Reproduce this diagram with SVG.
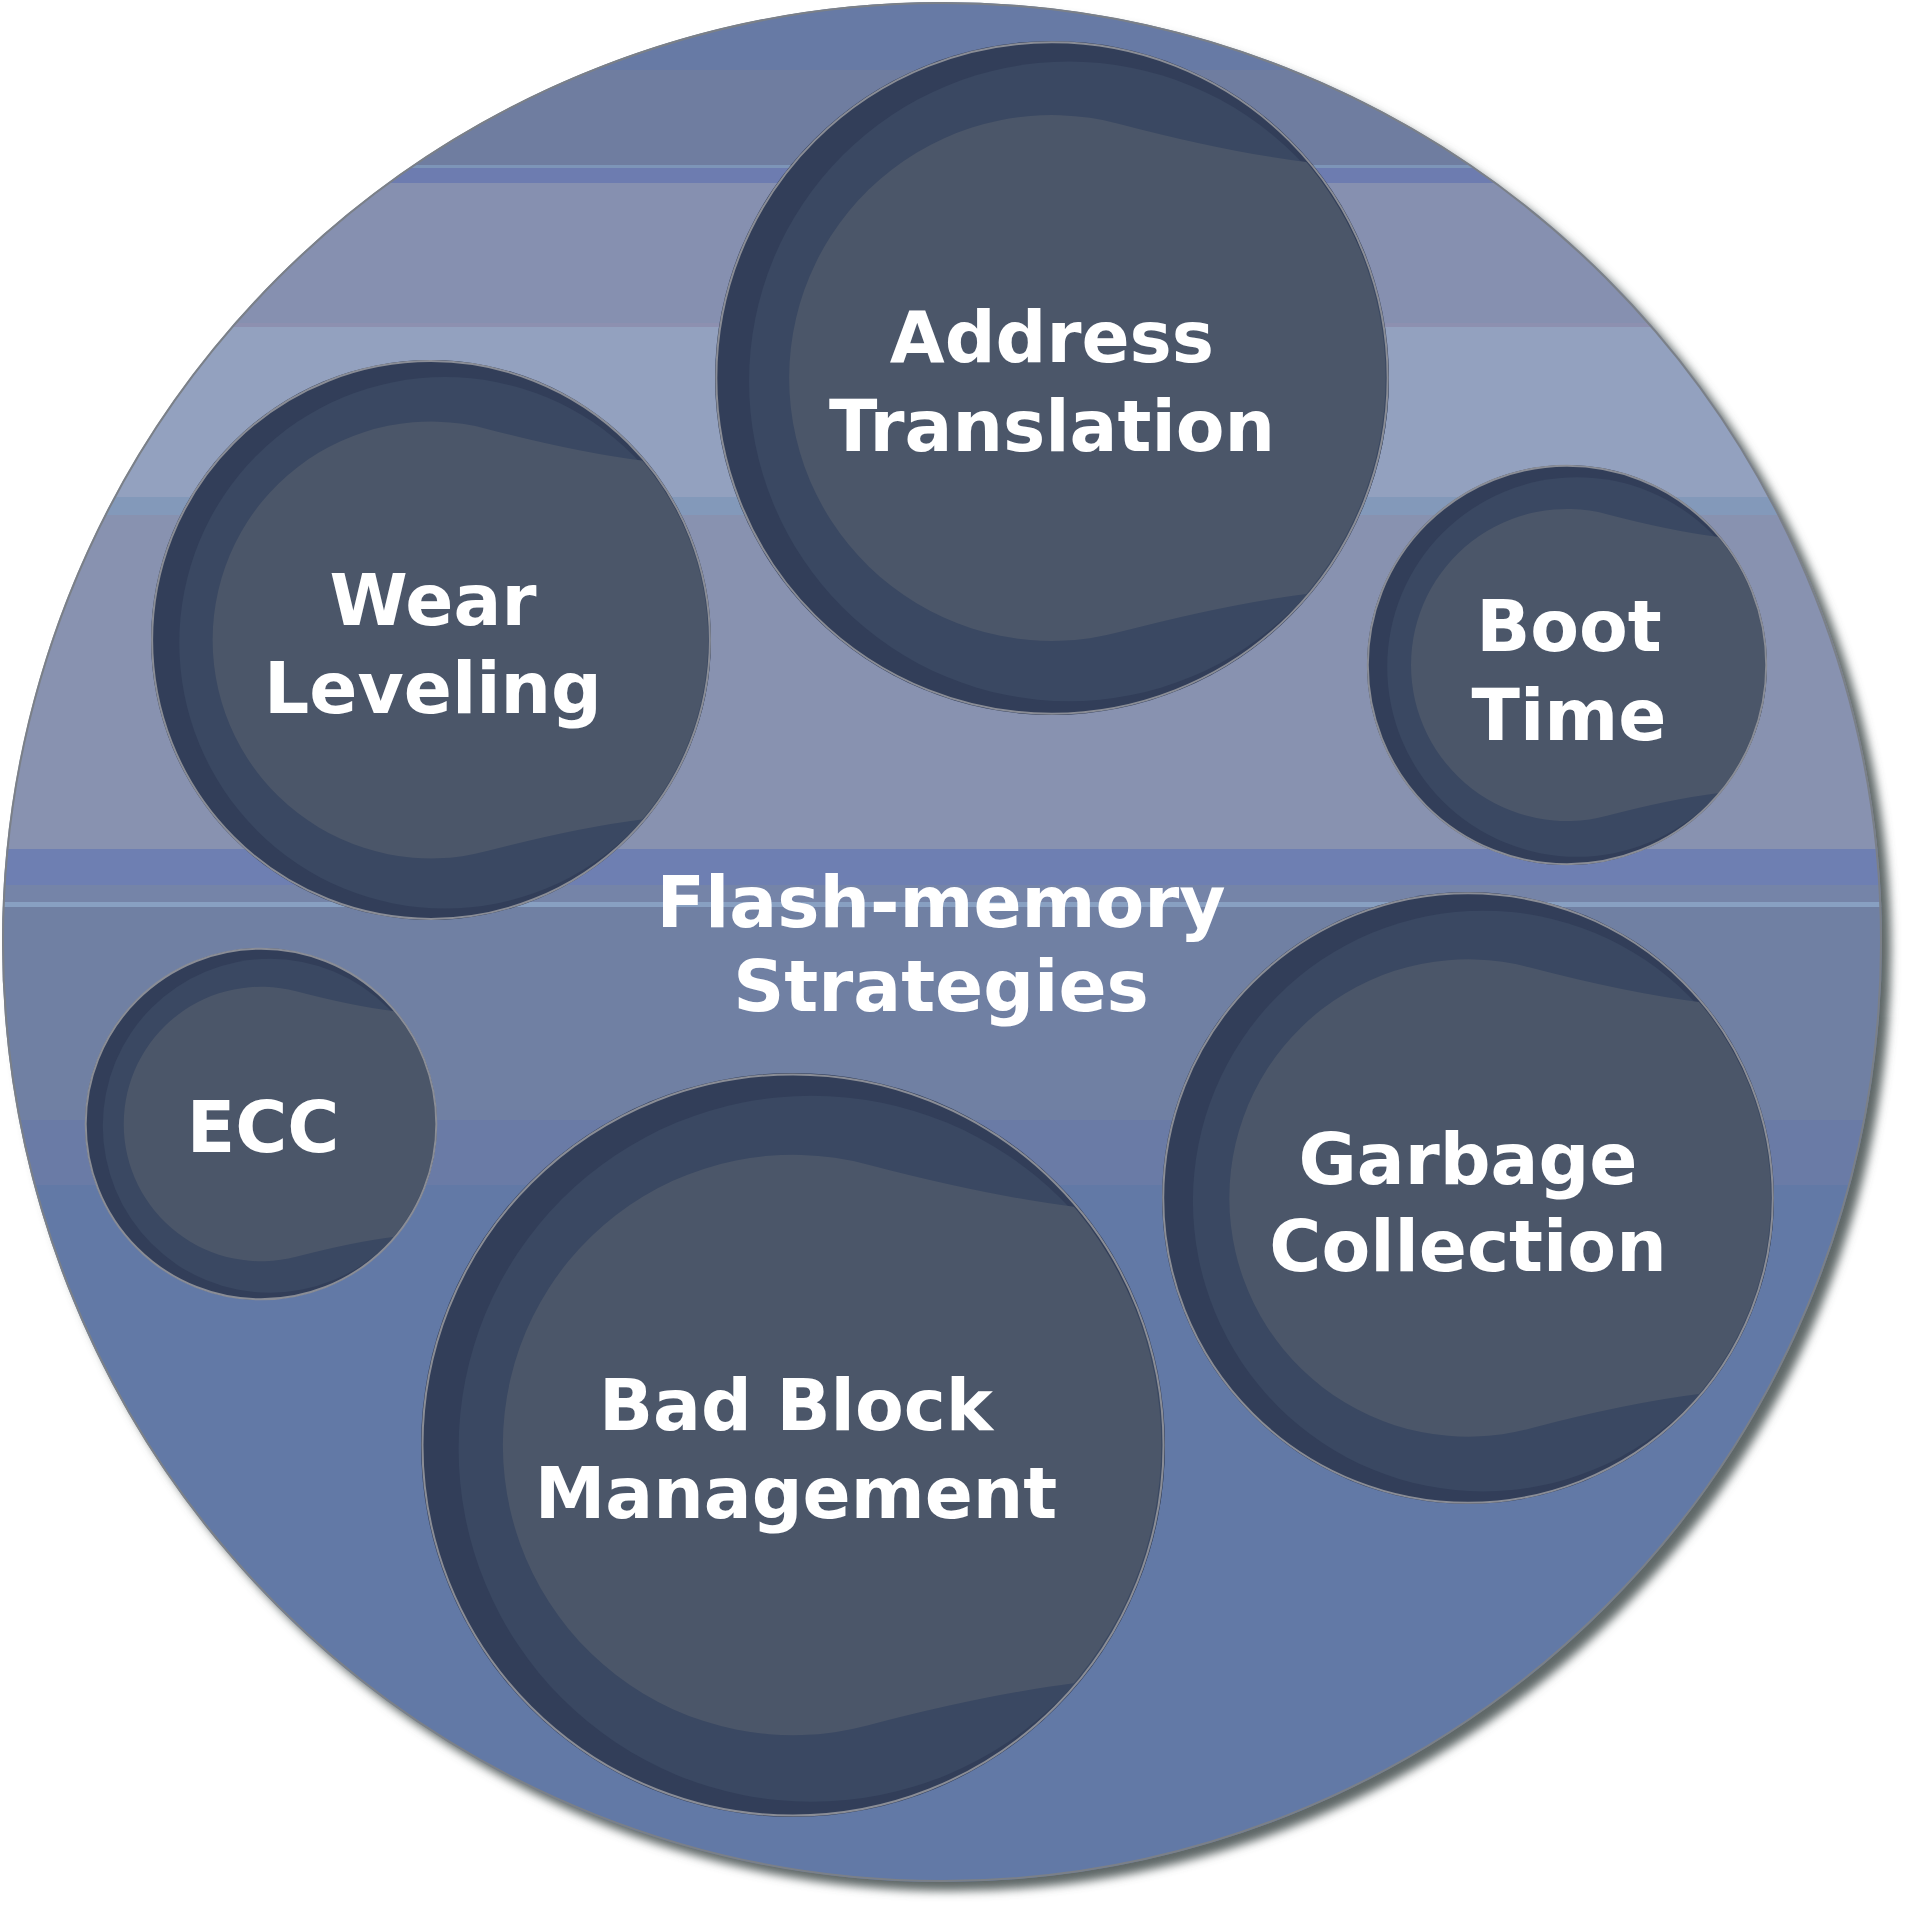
<svg xmlns="http://www.w3.org/2000/svg" width="1920" height="1918" viewBox="0 0 1920 1918">
<defs>
<style>
.lbl{font-family:"DejaVu Sans",Verdana,"Liberation Sans",sans-serif;font-weight:bold;font-size:71px;fill:#ffffff;text-anchor:middle}
.lite{fill:#4b5669}
</style>
<filter id="shadow" x="-5%" y="-5%" width="110%" height="110%">
<feGaussianBlur stdDeviation="5"/>
</filter>
<clipPath id="bigclip"><circle cx="942" cy="942" r="940"/></clipPath>
<clipPath id="bclip"><circle cx="0" cy="0" r="99"/></clipPath>
<symbol id="bubble" viewBox="-100 -100 200 200" overflow="visible">
<circle cx="0" cy="0" r="100" fill="#323e59"/>
<circle cx="5" cy="1" r="94.9" fill="#3a4862"/>
<path class="lite" clip-path="url(#bclip)" d="M -78 0 A 78 78 0 0 1 20 -75.4 Q 52 -67 76 -64 L 110 -64 L 110 64 L 76 64 Q 52 67 20 75.4 A 78 78 0 0 1 -78 0 Z"/>
<circle cx="0" cy="0" r="99.6" fill="none" stroke="#8a8d96" stroke-width="2" vector-effect="non-scaling-stroke"/>
</symbol>
</defs>
<rect x="0" y="0" width="1920" height="1918" fill="#ffffff"/>
<g id="flash-memory-strategies">
<circle cx="951" cy="951" r="940" fill="#5f6868" filter="url(#shadow)"/>
<g clip-path="url(#bigclip)">
<rect x="0" y="0" width="1920" height="70" fill="#677aa5"/>
<rect x="0" y="70" width="1920" height="95" fill="#6f7da0"/>
<rect x="0" y="165" width="1920" height="3" fill="#7d95b8"/>
<rect x="0" y="168" width="1920" height="15" fill="#6d7cb0"/>
<rect x="0" y="183" width="1920" height="140" fill="#8690b0"/>
<rect x="0" y="323" width="1920" height="4" fill="#8d90b0"/>
<rect x="0" y="327" width="1920" height="170" fill="#93a1bf"/>
<rect x="0" y="497" width="1920" height="18" fill="#8399ba"/>
<rect x="0" y="515" width="1920" height="334" fill="#8892b0"/>
<rect x="0" y="849" width="1920" height="36" fill="#6e7fb2"/>
<rect x="0" y="885" width="1920" height="17" fill="#7584a8"/>
<rect x="0" y="902" width="1920" height="5" fill="#88a0c2"/>
<rect x="0" y="907" width="1920" height="213" fill="#7080a3"/>
<rect x="0" y="1120" width="1920" height="65" fill="#6a7ba6"/>
<rect x="0" y="1185" width="1920" height="733" fill="#6279a6"/>
</g>
<circle cx="942" cy="942" r="939" fill="none" stroke="#7b8088" stroke-width="2"/>
<text class="lbl" x="941" y="927">Flash-memory</text>
<text class="lbl" x="941" y="1011">Strategies</text>
</g>
<g id="connectors"/>
<g id="address-translation">
<use href="#bubble" x="715" y="41" width="674" height="674"/>
<text class="lbl" x="1052" y="362">Address</text>
<text class="lbl" x="1052" y="451">Translation</text>
</g>
<g id="wear-leveling">
<use href="#bubble" x="151" y="360" width="560" height="560"/>
<text class="lbl" x="433" y="625">Wear</text>
<text class="lbl" x="433" y="713">Leveling</text>
</g>
<g id="boot-time">
<use href="#bubble" x="1367" y="465" width="400" height="400"/>
<text class="lbl" x="1569" y="651">Boot</text>
<text class="lbl" x="1569" y="740">Time</text>
</g>
<g id="ecc">
<use href="#bubble" x="85" y="948" width="352" height="352"/>
<text class="lbl" x="263" y="1152">ECC</text>
</g>
<g id="bad-block-management">
<use href="#bubble" x="421" y="1073" width="744" height="744"/>
<text class="lbl" x="796" y="1430">Bad Block</text>
<text class="lbl" x="796" y="1518">Management</text>
</g>
<g id="garbage-collection">
<use href="#bubble" x="1162" y="892" width="612" height="612"/>
<text class="lbl" x="1468" y="1184">Garbage</text>
<text class="lbl" x="1468" y="1271">Collection</text>
</g>
</svg>
